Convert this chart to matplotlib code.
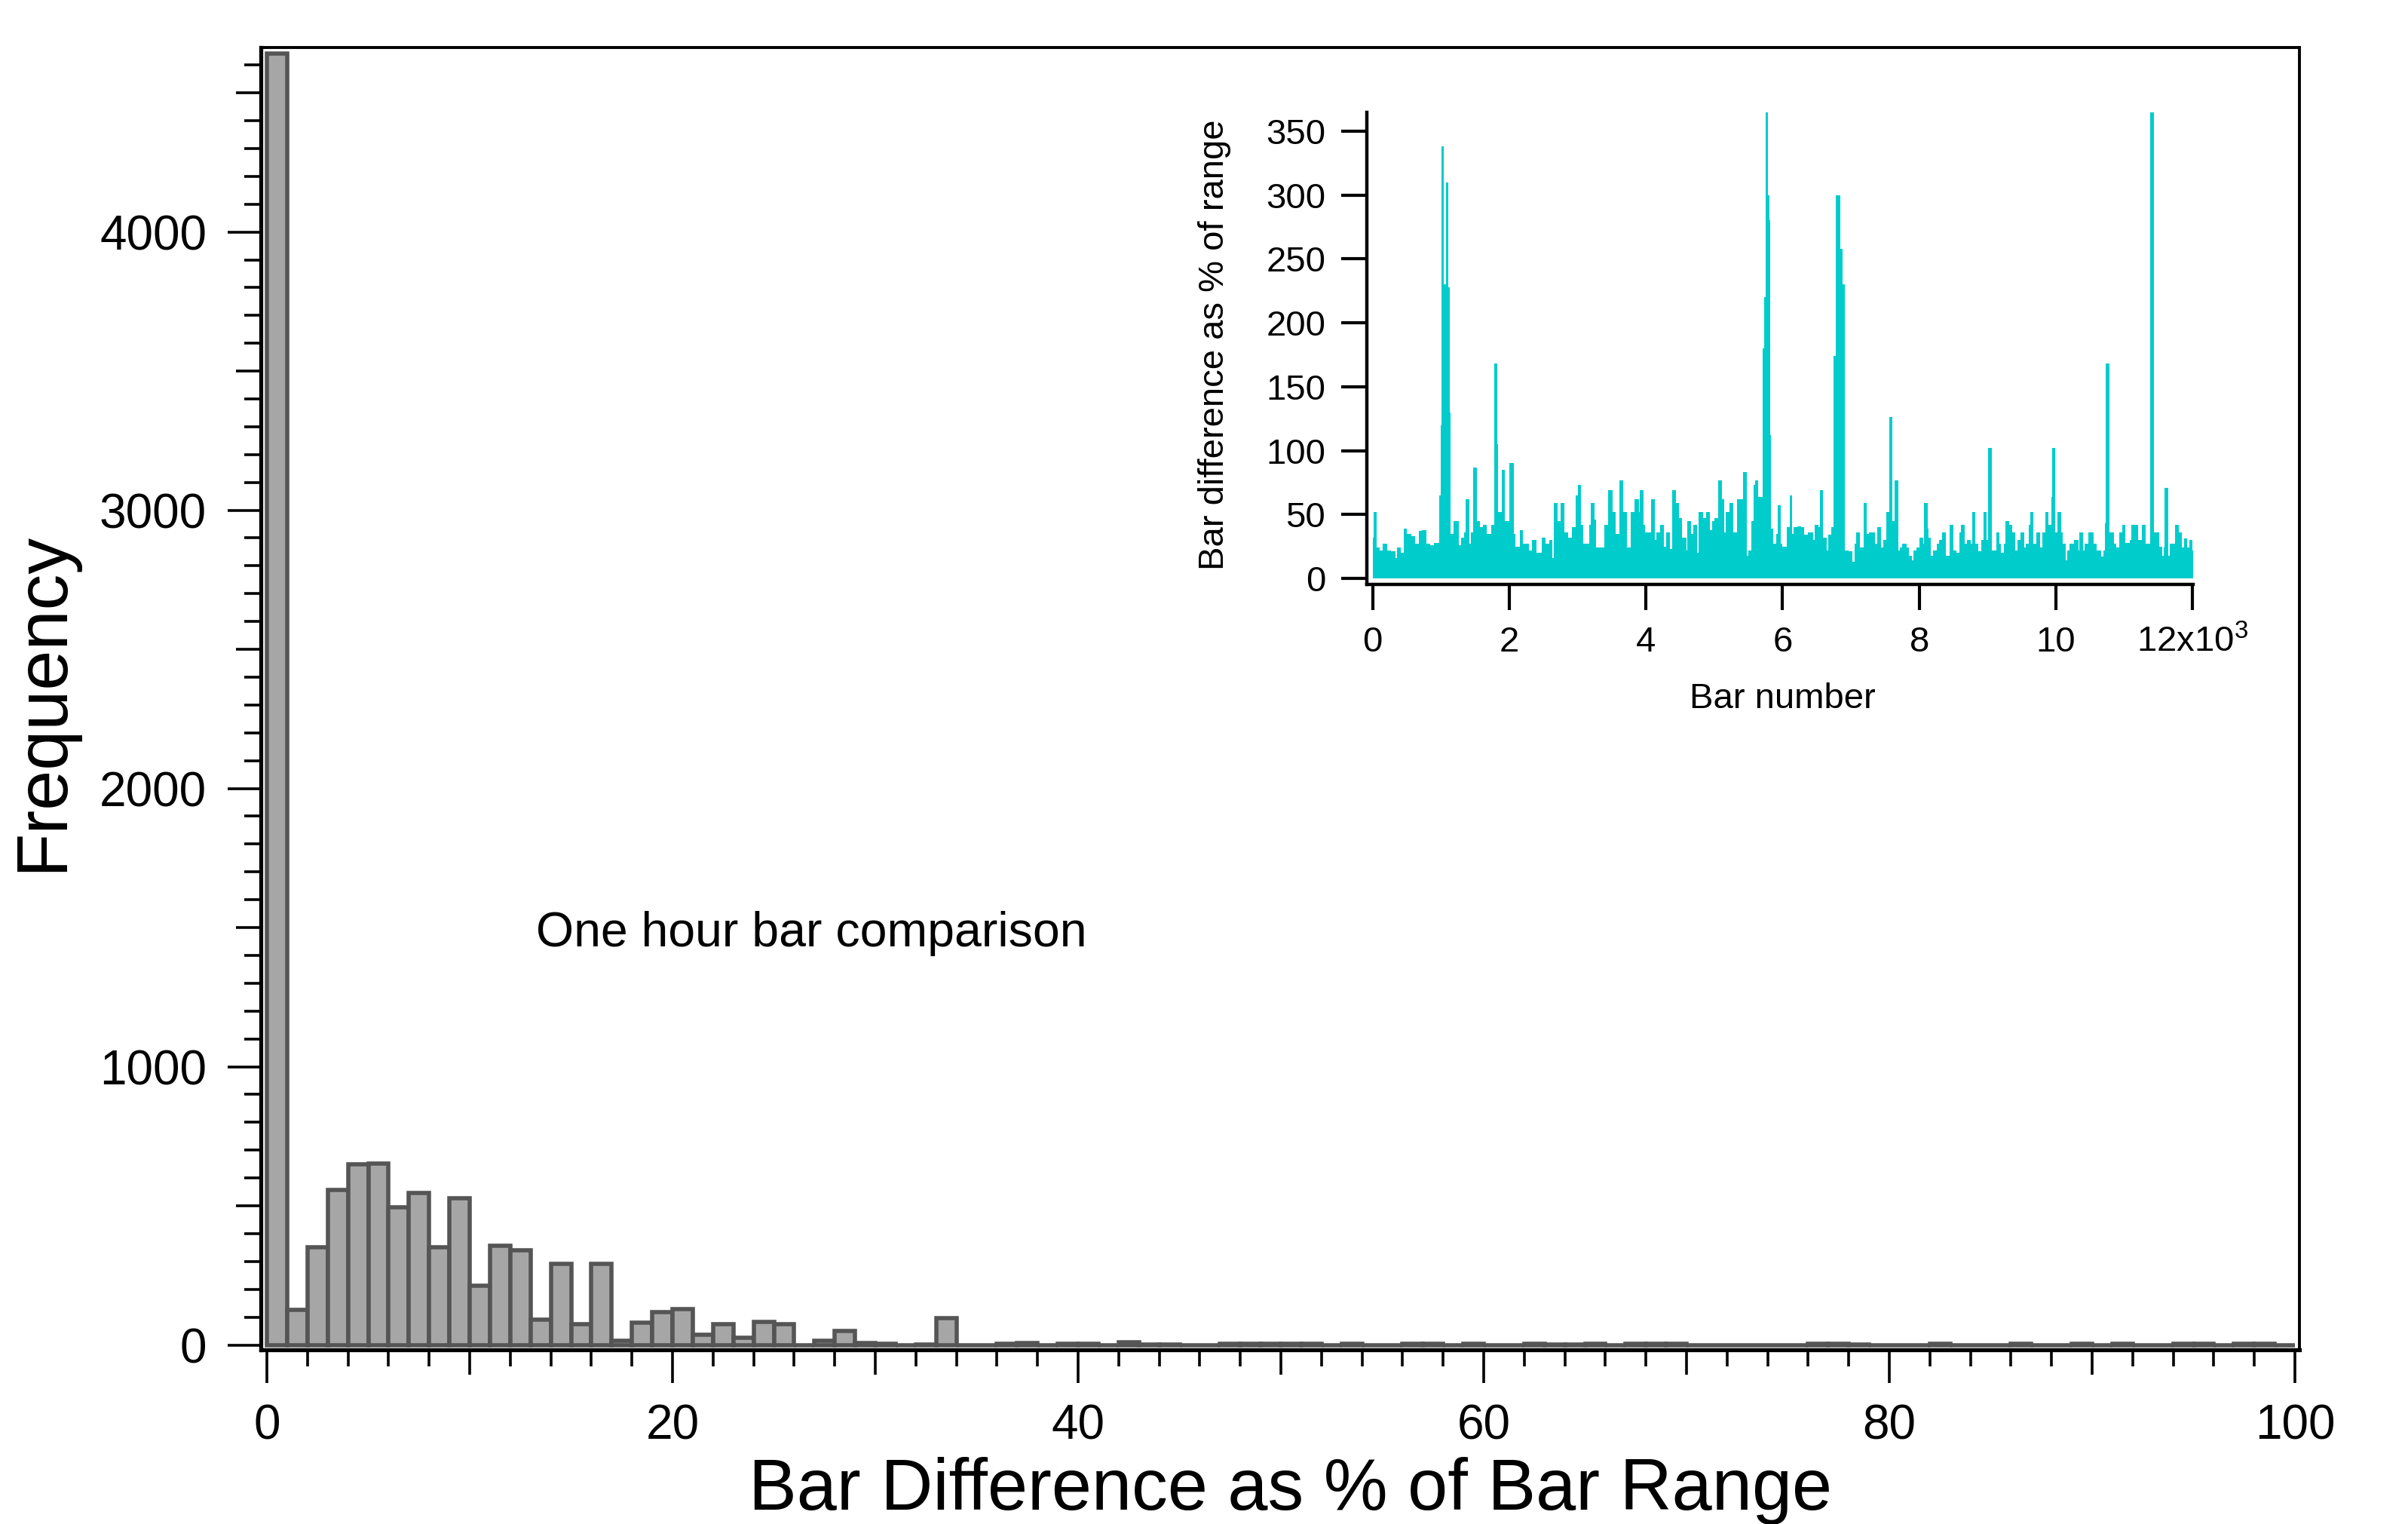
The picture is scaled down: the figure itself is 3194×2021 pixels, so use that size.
import numpy as np
import matplotlib
matplotlib.use("Agg")
import matplotlib.pyplot as plt
from matplotlib.ticker import FixedLocator, FixedFormatter, MultipleLocator

plt.rcParams["font.family"] = ["Liberation Sans", "DejaVu Sans"]

# histogram of bar difference (% of bar range), 1% bins from 0 to 100
hist_counts = [
    4640, 125, 352, 556, 648, 651, 495, 546, 350, 526,
    212, 357, 339, 90, 292, 75, 292, 16, 81, 118,
    129, 36, 74, 27, 83, 74, 0, 16, 51, 8,
    3, 0, 2, 95, 0, 0, 3, 8, 0, 5,
    5, 0, 10, 2, 2, 0, 0, 3, 3, 5,
    3, 3, 0, 3, 0, 0, 3, 3, 0, 3,
    0, 0, 3, 1, 1, 3, 0, 3, 3, 3,
    0, 0, 0, 0, 0, 0, 3, 3, 1, 0,
    0, 0, 3, 0, 0, 0, 3, 0, 0, 3,
    0, 3, 0, 0, 3, 3, 0, 3, 3, 0,
]

# inset: bar difference vs bar number, read as the upper envelope of the trace
env_start = [
    0, 18, 63, 100, 148, 210, 269, 332, 358, 413,
    454, 506, 572, 627, 675, 727, 786, 838, 904, 978,
    996, 1010, 1045, 1080, 1105, 1125, 1144, 1181, 1266, 1299,
    1339, 1365, 1413, 1439, 1476, 1531, 1576, 1613, 1672, 1734,
    1782, 1825, 1838, 1889, 1937, 2004, 2063, 2085, 2159, 2203,
    2288, 2336, 2399, 2472, 2528, 2583, 2631, 2657, 2705, 2749,
    2812, 2867, 2915, 2970, 3007, 3055, 3081, 3166, 3192, 3247,
    3273, 3395, 3450, 3517, 3561, 3616, 3672, 3727, 3775, 3838,
    3897, 3915, 3963, 3989, 4074, 4126, 4155, 4211, 4259, 4296,
    4347, 4388, 4439, 4487, 4524, 4598, 4609, 4661, 4690, 4746,
    4775, 4838, 4886, 4938, 4974, 5004, 5059, 5115, 5144, 5170,
    5225, 5281, 5329, 5421, 5476, 5495, 5539, 5576, 5602, 5639,
    5705, 5725, 5750, 5780, 5805, 5820, 5834, 5860, 5908, 5927,
    5974, 6000, 6056, 6100, 6141, 6166, 6214, 6266, 6314, 6369,
    6443, 6473, 6528, 6546, 6591, 6646, 6672, 6712, 6749, 6780,
    6845, 6875, 6915, 6967, 7026, 7052, 7078, 7126, 7181, 7236,
    7262, 7347, 7384, 7439, 7469, 7521, 7561, 7605, 7642, 7690,
    7716, 7753, 7816, 7853, 7893, 7919,
    7956, 8007, 8055, 8074, 8122, 8140, 8173, 8203, 8258, 8295,
    8339, 8391, 8443, 8498, 8546, 8583, 8609, 8664, 8701, 8756,
    8775, 8823, 8860, 8904, 8941, 8989, 9007, 9063, 9125, 9173,
    9199, 9236, 9262, 9310, 9358, 9409, 9439, 9483, 9539, 9561,
    9605, 9623, 9671, 9716, 9771, 9801, 9845, 9893, 9930, 9948,
    9992, 10022, 10077, 10103, 10147, 10170, 10195, 10269, 10325, 10343,
    10391, 10417, 10472, 10546, 10590, 10657, 10694, 10719, 10730, 10778,
    10852, 10878, 10922, 10970, 11018, 11081, 11107, 11199, 11258, 11313,
    11376, 11432, 11516, 11553, 11572, 11590, 11642, 11660, 11745, 11793,
    11837, 11874, 11919, 11948, 11996,
]
env_top = [
    32, 52, 24, 22, 27, 22, 21, 16, 24, 20,
    39, 35, 33, 27, 37, 38, 27, 26, 28, 65,
    120, 338, 230, 310, 228, 130, 35, 45, 26, 32,
    36, 62, 27, 36, 87, 45, 40, 42, 35, 42,
    168, 105, 52, 85, 45, 90, 35, 25, 38, 27,
    22, 30, 20, 32, 27, 30, 16, 59, 45, 59,
    36, 32, 40, 65, 73, 42, 27, 42, 59, 46,
    24, 42, 69, 52, 35, 77, 52, 24, 52, 62,
    52, 69, 42, 36, 62, 30, 36, 42, 25, 36,
    23, 69, 59, 47, 32, 22, 45, 35, 42, 20,
    52, 47, 52, 38, 45, 47, 77, 62, 36, 52,
    59, 36, 62, 83, 18, 22, 45, 73, 77, 64,
    180, 220, 367, 300, 280, 112, 39, 27, 35, 57,
    27, 25, 40, 65, 35, 40, 41, 40, 34, 36,
    30, 42, 40, 69, 32, 22, 34, 40, 174, 300,
    258, 230, 22, 21, 13, 27, 36, 24, 59, 35,
    36, 27, 40, 24, 30, 52, 126, 45, 77, 22,
    24, 27, 24, 18, 14, 22,
    24, 32, 27, 59, 39, 32, 18, 22, 27, 30,
    36, 18, 42, 22, 20, 36, 42, 27, 30, 27,
    52, 27, 21, 30, 52, 30, 102, 22, 36, 27,
    20, 27, 45, 42, 36, 22, 30, 36, 24, 27,
    42, 52, 27, 36, 24, 36, 52, 42, 64, 102,
    36, 52, 36, 27, 14, 22, 27, 30, 22, 36,
    22, 27, 36, 27, 22, 17, 22, 43, 168, 36,
    27, 24, 36, 42, 28, 30, 42, 30, 42, 27,
    367, 36, 25, 18, 24, 71, 18, 27, 42, 36,
    24, 31, 24, 30, 22,
]
env_end = 12010

inset_yticks = [0, 50, 100, 150, 200, 250, 300, 350]
inset_xticks = [0, 2000, 4000, 6000, 8000, 10000, 12000]
inset_xlabels = ["0", "2", "4", "6", "8", "10", r"12x10$^\mathregular{3}$"]

fig = plt.figure(figsize=(15.97, 10.105), dpi=200)

# ---- main histogram
ax = fig.add_axes([0.10833, 0.11430, 0.84659, 0.85453])
ax.bar(np.arange(len(hist_counts)), hist_counts, width=1.0, align="edge",
       color="#a6a6a6", edgecolor="#555555", linewidth=2.0)
ax.set_xlim(-0.3, 100.22)
ax.set_ylim(-17.6, 4663)
for s in ("left", "bottom"):
    ax.spines[s].set_linewidth(1.9)
for s in ("top", "right"):
    ax.spines[s].set_linewidth(1.4)

xmaj = list(range(0, 101, 10))
ymaj = list(range(0, 4601, 500))
ax.xaxis.set_major_locator(FixedLocator(xmaj))
ax.xaxis.set_major_formatter(FixedFormatter([str(v) if v % 20 == 0 else "" for v in xmaj]))
ax.xaxis.set_minor_locator(MultipleLocator(2))
ax.yaxis.set_major_locator(FixedLocator(ymaj))
ax.yaxis.set_major_formatter(FixedFormatter([str(v) if v % 1000 == 0 else "" for v in ymaj]))
ax.yaxis.set_minor_locator(MultipleLocator(100))
ax.tick_params(which="both", direction="out", top=False, right=False, width=1.3)
ax.tick_params(which="major", length=11.9, pad=14, labelsize=23)
ax.tick_params(which="minor", length=7.9)
for t, v in zip(ax.xaxis.get_major_ticks(), xmaj):
    if v % 20 == 0:
        t.tick1line.set_markersize(15.8)
for t, v in zip(ax.yaxis.get_major_ticks(), ymaj):
    if v % 1000 == 0:
        t.tick1line.set_markersize(15.8)

ax.set_xlabel("Bar Difference as % of Bar Range", fontsize=34.4)
ax.xaxis.set_label_coords(0.505, -0.1228)
ax.xaxis.label.set_va("baseline")
ax.set_ylabel("Frequency", fontsize=34.4)
ax.yaxis.set_label_coords(-0.0975, 0.498)
ax.yaxis.label.set_va("baseline")

ax.text(13.25, 1432, "One hour bar comparison", fontsize=23.2, ha="left", va="baseline")

# ---- inset trace
ax2 = fig.add_axes([0.56763, 0.61653, 0.34314, 0.30974])
ax2.stairs(env_top, env_start + [env_end], fill=True, color="#00cccc", baseline=0)
ax2.set_xlim(-83, 12007)
ax2.set_ylim(-4.7, 364.6)
ax2.spines["top"].set_visible(False)
ax2.spines["right"].set_visible(False)
for s in ("left", "bottom"):
    ax2.spines[s].set_linewidth(1.6)
ax2.xaxis.set_major_locator(FixedLocator(inset_xticks))
ax2.xaxis.set_major_formatter(FixedFormatter(inset_xlabels))
ax2.yaxis.set_major_locator(FixedLocator(inset_yticks))
ax2.tick_params(direction="out", length=12.2, width=1.5, labelsize=17, pad=7.5)
ax2.set_xlabel("Bar number", fontsize=17)
ax2.xaxis.set_label_coords(0.503, -0.262)
ax2.xaxis.label.set_va("baseline")
ax2.set_ylabel("Bar difference as % of range", fontsize=17)
ax2.yaxis.set_label_coords(-0.1735, 0.508)
ax2.yaxis.label.set_va("baseline")

fig.savefig("out.png", dpi=200)
